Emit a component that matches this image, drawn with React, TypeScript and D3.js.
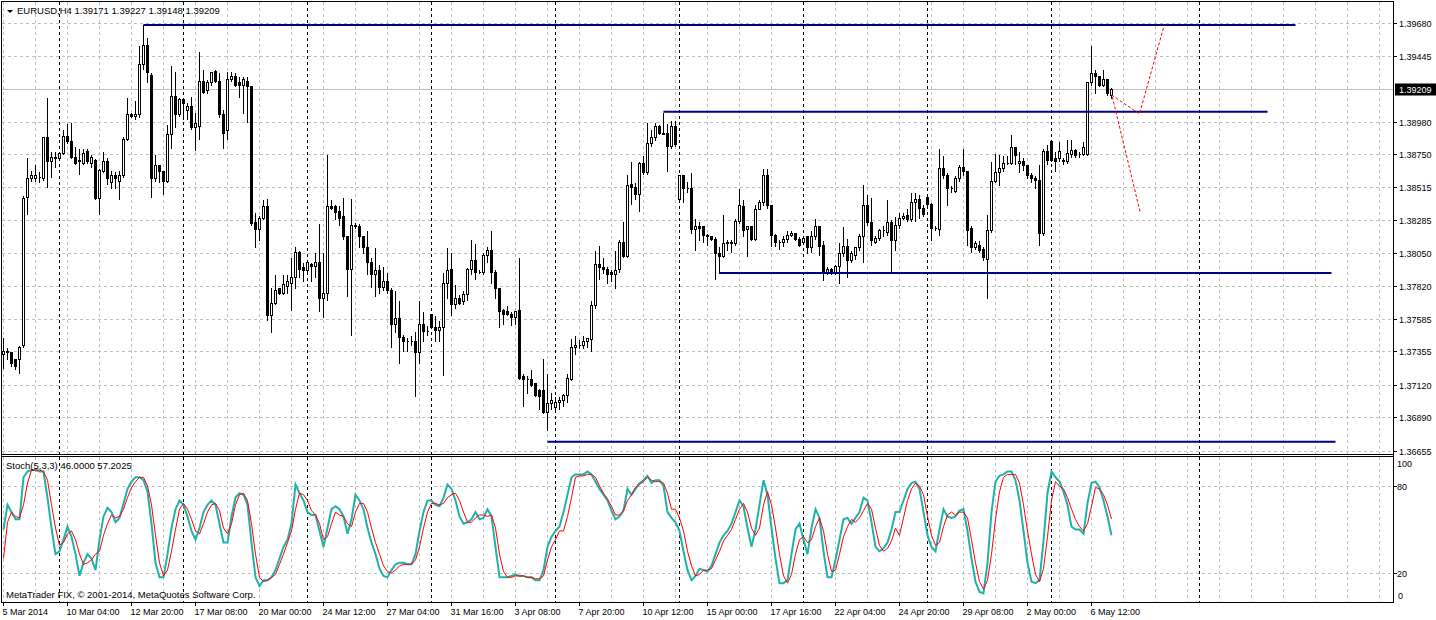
import * as d3 from "d3";

// EURUSD H4, 5 Mar 2014 .. 7 May 2014 (bar index 0..277)
const opens = [
  1.3734, 1.3736, 1.3735, 1.373, 1.373, 1.374, 1.3845, 1.3858, 1.3858, 1.3859,
  1.3858, 1.3887, 1.387, 1.3873, 1.3872, 1.3876, 1.3888, 1.3884, 1.3873, 1.387,
  1.3869, 1.3877, 1.3869, 1.3871, 1.3844, 1.3863, 1.387, 1.3855, 1.386, 1.3856,
  1.386, 1.3886, 1.3903, 1.3902, 1.3903, 1.3939, 1.3952, 1.3931, 1.3858, 1.3867,
  1.3863, 1.3856, 1.3889, 1.3916, 1.3903, 1.3914, 1.3906, 1.3909, 1.3894, 1.3895,
  1.3927, 1.392, 1.3926, 1.3934, 1.3927, 1.3903, 1.3892, 1.3928, 1.393, 1.3926,
  1.3924, 1.3927, 1.3923, 1.3827, 1.3822, 1.383, 1.3838, 1.3761, 1.377, 1.378,
  1.3777, 1.3782, 1.3784, 1.3788, 1.3806, 1.3795, 1.3793, 1.3797, 1.3796, 1.3799,
  1.3773, 1.3777, 1.3838, 1.3838, 1.3835, 1.3831, 1.3817, 1.3794, 1.3825, 1.3824,
  1.3817, 1.3809, 1.3799, 1.379, 1.3793, 1.3781, 1.3785, 1.3779, 1.3755, 1.3759,
  1.3746, 1.3743, 1.3743, 1.3743, 1.3735, 1.3755, 1.375, 1.3762, 1.3753, 1.3751,
  1.3753, 1.3784, 1.3794, 1.3769, 1.3773, 1.3771, 1.3776, 1.3794, 1.38, 1.3792,
  1.3792, 1.3804, 1.3807, 1.3792, 1.378, 1.3765, 1.3764, 1.3762, 1.376, 1.3765,
  1.3718, 1.3716, 1.3716, 1.3713, 1.3708, 1.3708, 1.3693, 1.3699, 1.3696, 1.37,
  1.3701, 1.3705, 1.3716, 1.3739, 1.374, 1.374, 1.3743, 1.3744, 1.3768, 1.3797,
  1.3795, 1.3794, 1.3792, 1.379, 1.3794, 1.3813, 1.3803, 1.3854, 1.3852, 1.3847,
  1.3869, 1.3862, 1.3883, 1.3887, 1.3895, 1.389, 1.389, 1.3881, 1.3895, 1.3843,
  1.386, 1.3851, 1.3851, 1.3822, 1.3824, 1.3824, 1.3818, 1.3817, 1.3815, 1.3805,
  1.3803, 1.3812, 1.3813, 1.3812, 1.3828, 1.3838, 1.3822, 1.3824, 1.3815, 1.3836,
  1.3841, 1.386, 1.3839, 1.3818, 1.3813, 1.3813, 1.3815, 1.3818, 1.3819, 1.3815,
  1.3813, 1.3817, 1.3809, 1.3817, 1.3824, 1.3811, 1.3791, 1.3794, 1.3792, 1.3796,
  1.3805, 1.381, 1.38, 1.3804, 1.3809, 1.3817, 1.3839, 1.3827, 1.3813, 1.3816,
  1.3821, 1.382, 1.3827, 1.3814, 1.3825, 1.383, 1.3832, 1.3829, 1.3841, 1.3843,
  1.3837, 1.3845, 1.384, 1.3823, 1.3822, 1.3865, 1.386, 1.3851, 1.3849, 1.3858,
  1.3866, 1.3863, 1.3823, 1.3809, 1.3811, 1.3808, 1.3801, 1.3821, 1.3856, 1.3862,
  1.3865, 1.3869, 1.3869, 1.388, 1.3869, 1.387, 1.3867, 1.386, 1.3858, 1.3857,
  1.3819, 1.3877, 1.3884, 1.3872, 1.3872, 1.3871, 1.387, 1.3875, 1.3878, 1.3875,
  1.3875, 1.3875, 1.3926, 1.3932, 1.393, 1.3924, 1.3928, 1.39171,
];
const highs = [
  1.3746, 1.3739, 1.3736, 1.3731, 1.374, 1.3846, 1.3873, 1.3864, 1.3868, 1.3863,
  1.3888, 1.3915, 1.3877, 1.3877, 1.3877, 1.3893, 1.3897, 1.3898, 1.3881, 1.3879,
  1.3879, 1.3879, 1.3875, 1.3872, 1.3865, 1.3877, 1.3873, 1.3864, 1.3863, 1.3864,
  1.3888, 1.3915, 1.3905, 1.3913, 1.3952, 1.3967, 1.3958, 1.3933, 1.3875, 1.3868,
  1.3864, 1.3896, 1.3938, 1.3934, 1.3915, 1.3915, 1.3912, 1.3916, 1.3905, 1.3948,
  1.3935, 1.3928, 1.3934, 1.3935, 1.3933, 1.3907, 1.3934, 1.3934, 1.3933, 1.393,
  1.393, 1.393, 1.3924, 1.3834, 1.3832, 1.3843, 1.3844, 1.3781, 1.379, 1.3781,
  1.379, 1.379, 1.3802, 1.381, 1.3807, 1.3799, 1.38, 1.3799, 1.3806, 1.3826,
  1.3806, 1.3875, 1.3843, 1.384, 1.3839, 1.3845, 1.3818, 1.3844, 1.3827, 1.3826,
  1.3818, 1.3821, 1.3802, 1.3809, 1.3797, 1.3796, 1.3792, 1.3781, 1.3779, 1.3772,
  1.3748, 1.3746, 1.3747, 1.375, 1.3772, 1.3764, 1.3754, 1.3762, 1.3761, 1.3758,
  1.3792, 1.3809, 1.3806, 1.3783, 1.3776, 1.3779, 1.3795, 1.3815, 1.3812, 1.3794,
  1.3806, 1.381, 1.3821, 1.3794, 1.378, 1.3766, 1.3768, 1.3764, 1.3765, 1.3802,
  1.372, 1.3719, 1.3723, 1.3714, 1.371, 1.3731, 1.372, 1.3707, 1.3704, 1.3704,
  1.3706, 1.372, 1.3745, 1.3747, 1.3744, 1.3747, 1.3746, 1.3772, 1.3807, 1.3811,
  1.3802, 1.3796, 1.3794, 1.3807, 1.3815, 1.3828, 1.3861, 1.387, 1.3855, 1.387,
  1.3874, 1.3898, 1.3893, 1.3898, 1.3896, 1.3905, 1.3897, 1.3899, 1.3899, 1.3861,
  1.3861, 1.3856, 1.3862, 1.383, 1.3828, 1.3824, 1.3819, 1.3818, 1.3817, 1.381,
  1.3833, 1.3815, 1.3815, 1.383, 1.3851, 1.3843, 1.3825, 1.3825, 1.384, 1.3843,
  1.3865, 1.3865, 1.384, 1.3819, 1.3815, 1.3818, 1.3821, 1.3821, 1.382, 1.3817,
  1.3817, 1.3818, 1.3821, 1.383, 1.3825, 1.3814, 1.3796, 1.3795, 1.3797, 1.3813,
  1.3824, 1.3816, 1.3807, 1.381, 1.3819, 1.3854, 1.3847, 1.3845, 1.3818, 1.3823,
  1.3825, 1.3843, 1.3829, 1.3831, 1.3834, 1.3834, 1.3837, 1.3848, 1.3848, 1.3847,
  1.384, 1.3847, 1.3841, 1.3825, 1.3879, 1.3874, 1.3862, 1.3853, 1.386, 1.3868,
  1.3879, 1.3864, 1.3825, 1.3814, 1.3814, 1.381, 1.3833, 1.387, 1.3876, 1.3875,
  1.3874, 1.3874, 1.3889, 1.3881, 1.3877, 1.3873, 1.3868, 1.3862, 1.386, 1.3868,
  1.3879, 1.3882, 1.3885, 1.3877, 1.3884, 1.3873, 1.3886, 1.3886, 1.3879, 1.3877,
  1.3884, 1.3927, 1.3952, 1.3935, 1.3931, 1.3935, 1.3929, 1.39227,
];
const lows = [
  1.3724, 1.373, 1.3725, 1.3723, 1.372, 1.3739, 1.3833, 1.3856, 1.3856, 1.3855,
  1.3857, 1.3852, 1.3859, 1.3866, 1.3871, 1.3875, 1.3883, 1.3872, 1.3868, 1.3861,
  1.3868, 1.3869, 1.3866, 1.3843, 1.3833, 1.3862, 1.3854, 1.3851, 1.3851, 1.3843,
  1.3859, 1.3885, 1.3901, 1.39, 1.3901, 1.3935, 1.3926, 1.3845, 1.3856, 1.3855,
  1.3847, 1.3855, 1.3879, 1.3894, 1.3902, 1.39, 1.39, 1.3893, 1.3878, 1.3886,
  1.3918, 1.3918, 1.3924, 1.3926, 1.3901, 1.3879, 1.3886, 1.3927, 1.3923, 1.3915,
  1.3904, 1.3898, 1.3825, 1.3809, 1.3814, 1.3829, 1.3758, 1.3749, 1.3769, 1.3776,
  1.3776, 1.3777, 1.3765, 1.378, 1.3788, 1.3785, 1.3792, 1.3785, 1.3788, 1.3764,
  1.376, 1.3772, 1.3836, 1.3829, 1.3825, 1.3815, 1.3775, 1.3747, 1.3823, 1.3809,
  1.3805, 1.379, 1.3781, 1.3775, 1.3777, 1.3779, 1.3777, 1.3739, 1.3749, 1.3727,
  1.3736, 1.3736, 1.374, 1.3704, 1.3727, 1.3743, 1.3747, 1.3752, 1.3743, 1.3743,
  1.3719, 1.3773, 1.3761, 1.3766, 1.3769, 1.3769, 1.3772, 1.379, 1.3787, 1.3791,
  1.379, 1.3799, 1.3784, 1.3773, 1.3753, 1.3755, 1.3761, 1.3754, 1.3755, 1.3716,
  1.3697, 1.3706, 1.3711, 1.3704, 1.3695, 1.3692, 1.368, 1.3695, 1.3695, 1.3695,
  1.3697, 1.37, 1.3715, 1.3734, 1.3738, 1.3738, 1.3739, 1.3736, 1.3766, 1.3787,
  1.3791, 1.3784, 1.3785, 1.378, 1.3792, 1.3802, 1.3802, 1.384, 1.3843, 1.3835,
  1.3861, 1.3861, 1.3881, 1.3885, 1.3889, 1.3889, 1.3863, 1.3879, 1.3881, 1.3841,
  1.3841, 1.3848, 1.3819, 1.3807, 1.3814, 1.3813, 1.3811, 1.3814, 1.3787, 1.3791,
  1.3802, 1.3807, 1.3806, 1.3811, 1.3826, 1.3817, 1.3803, 1.3814, 1.3814, 1.3836,
  1.3839, 1.3837, 1.381, 1.381, 1.3808, 1.381, 1.3813, 1.3817, 1.3814, 1.381,
  1.3812, 1.3805, 1.3806, 1.3815, 1.3804, 1.3786, 1.379, 1.379, 1.379, 1.3784,
  1.3803, 1.3788, 1.3799, 1.3801, 1.3807, 1.3799, 1.3825, 1.3811, 1.3812, 1.3814,
  1.3817, 1.3818, 1.3791, 1.3807, 1.3823, 1.3829, 1.3828, 1.3828, 1.3828, 1.383,
  1.3831, 1.3839, 1.3814, 1.3821, 1.3818, 1.3858, 1.3839, 1.3848, 1.3848, 1.3856,
  1.386, 1.3811, 1.3806, 1.3808, 1.3806, 1.38, 1.3773, 1.382, 1.3855, 1.3853,
  1.3863, 1.3868, 1.3868, 1.3868, 1.3862, 1.3864, 1.3858, 1.3855, 1.3851, 1.3811,
  1.3818, 1.3868, 1.387, 1.3863, 1.387, 1.3868, 1.3869, 1.3873, 1.3873, 1.3873,
  1.3874, 1.3874, 1.3924, 1.3918, 1.3923, 1.3923, 1.3917, 1.39148,
];
const closes = [
  1.3736, 1.3735, 1.3727, 1.3725, 1.3739, 1.3844, 1.3858, 1.386, 1.386, 1.3859,
  1.3887, 1.387, 1.3873, 1.3872, 1.3876, 1.3888, 1.3884, 1.3873, 1.3869, 1.3871,
  1.3876, 1.387, 1.3873, 1.3844, 1.3864, 1.387, 1.3858, 1.386, 1.3858, 1.386,
  1.3886, 1.3903, 1.3902, 1.3903, 1.3939, 1.3952, 1.3933, 1.3858, 1.3867, 1.3863,
  1.3856, 1.3889, 1.3916, 1.3903, 1.3914, 1.3911, 1.3909, 1.3894, 1.3897, 1.3927,
  1.3919, 1.3926, 1.3933, 1.3927, 1.3903, 1.389, 1.3928, 1.393, 1.3924, 1.3924,
  1.3928, 1.3923, 1.3826, 1.3822, 1.383, 1.3838, 1.3761, 1.377, 1.3779, 1.3777,
  1.3783, 1.3785, 1.3788, 1.3806, 1.3794, 1.3793, 1.3799, 1.3796, 1.3799, 1.3773,
  1.3777, 1.3838, 1.3837, 1.3834, 1.383, 1.3817, 1.3794, 1.3825, 1.3824, 1.3817,
  1.3809, 1.3799, 1.379, 1.3793, 1.3781, 1.3785, 1.3779, 1.3755, 1.3759, 1.3746,
  1.3743, 1.3743, 1.3743, 1.3735, 1.3755, 1.375, 1.375, 1.3753, 1.3751, 1.3753,
  1.3784, 1.3793, 1.3769, 1.3773, 1.377, 1.3776, 1.3794, 1.38, 1.3792, 1.3792,
  1.3804, 1.3807, 1.3792, 1.378, 1.3764, 1.3762, 1.3762, 1.376, 1.3764, 1.3717,
  1.3716, 1.3716, 1.3712, 1.3705, 1.3704, 1.3693, 1.3699, 1.3701, 1.37, 1.3701,
  1.3705, 1.3717, 1.3739, 1.374, 1.374, 1.3743, 1.3745, 1.3768, 1.3797, 1.3795,
  1.3794, 1.379, 1.379, 1.3793, 1.3813, 1.3803, 1.3853, 1.3852, 1.3847, 1.3869,
  1.3862, 1.3883, 1.3887, 1.3895, 1.389, 1.3889, 1.3881, 1.3895, 1.3882, 1.386,
  1.3851, 1.3851, 1.3822, 1.3824, 1.3823, 1.3818, 1.3817, 1.3815, 1.3805, 1.3803,
  1.3812, 1.3813, 1.3812, 1.3828, 1.3839, 1.3821, 1.3824, 1.3815, 1.3836, 1.3841,
  1.386, 1.3839, 1.3818, 1.3813, 1.3813, 1.3815, 1.3818, 1.3819, 1.3815, 1.3811,
  1.3816, 1.3809, 1.3817, 1.3824, 1.381, 1.3791, 1.3794, 1.3791, 1.3796, 1.3805,
  1.381, 1.38, 1.3805, 1.3809, 1.3817, 1.3839, 1.3827, 1.3814, 1.3816, 1.3821,
  1.3821, 1.3827, 1.3814, 1.3825, 1.383, 1.3831, 1.3829, 1.3841, 1.3843, 1.3837,
  1.3833, 1.384, 1.3823, 1.3823, 1.3865, 1.386, 1.3851, 1.3851, 1.3858, 1.3866,
  1.3863, 1.3821, 1.3809, 1.3812, 1.3807, 1.3802, 1.3821, 1.3856, 1.3862, 1.3865,
  1.3869, 1.3869, 1.388, 1.3874, 1.387, 1.3867, 1.386, 1.3858, 1.3857, 1.3819,
  1.3877, 1.3871, 1.3871, 1.387, 1.3877, 1.387, 1.3876, 1.3878, 1.3874, 1.3875,
  1.388, 1.3926, 1.3932, 1.393, 1.3924, 1.3928, 1.3918, 1.39209,
];

// Stoch(5,3,3): main (%K) and signal (%D)
const stochMain = [
  50, 67, 62, 57, 57, 86, 90, 91, 91, 90, 90, 72, 51, 33, 35, 43, 52, 45, 33, 18,
  27, 33, 30, 22, 43, 59, 65, 62,
  55, 58, 68, 78, 83, 86, 86, 84, 76, 54, 27, 17, 17, 33, 51, 64, 70, 67, 59, 49,
  43, 51, 62, 67, 70, 67, 54, 41,
  41, 59, 72, 75, 74, 67, 41, 17, 11, 15, 15, 17, 22, 30, 38, 43, 54, 81, 75, 70,
  62, 60, 60, 49, 38, 51, 64, 66,
  64, 59, 47, 57, 74, 70, 64, 51, 41, 33, 23, 18, 17, 22, 26, 27, 27, 26, 26, 33,
  49, 62, 70, 70, 67, 66, 72, 81,
  78, 70, 59, 54, 55, 57, 62, 57, 58, 64, 59, 38, 17, 17, 17, 18, 19, 18, 18, 17,
  17, 15, 15, 22, 38, 45, 49, 52,
  62, 74, 86, 88, 88, 88, 90, 88, 83, 78, 74, 70, 63, 57, 59, 63, 78, 74, 78, 82,
  84, 87, 82, 84, 84, 80, 62, 58,
  55, 49, 35, 22, 15, 18, 23, 22, 21, 25, 33, 41, 46, 49, 54, 62, 70, 66, 51, 38,
  50, 67, 84, 74, 51, 30, 13, 13,
  15, 33, 50, 54, 43, 33, 51, 64, 58, 35, 17, 17, 29, 43, 57, 58, 54, 58, 62, 72,
  70, 55, 38, 35, 37, 41, 50, 62,
  62, 70, 78, 82, 83, 78, 62, 46, 38, 35, 50, 64, 59, 58, 59, 63, 64, 49, 30, 14,
  7, 6, 27, 62, 83, 87, 88, 90,
  90, 84, 70, 49, 27, 14, 13, 15, 42, 75, 90, 86, 83, 76, 67, 52, 50, 50, 47, 68,
  82, 83, 79, 70, 59, 46,
];
const stochSignal = [
  30, 55, 62, 59, 58, 67, 82, 91, 91, 91, 90, 84, 67, 51, 39, 41, 47, 49, 43, 33,
  26, 27, 29, 33, 35, 46, 54, 60,
  58, 59, 64, 72, 79, 83, 86, 86, 80, 67, 46, 27, 18, 22, 35, 50, 64, 68, 64, 57,
  49, 47, 54, 62, 67, 68, 63, 51,
  47, 54, 67, 74, 75, 70, 54, 33, 17, 14, 15, 17, 19, 26, 33, 41, 49, 64, 75, 74,
  70, 63, 60, 54, 43, 45, 54, 62,
  60, 59, 54, 52, 62, 68, 68, 62, 51, 41, 33, 25, 21, 20, 22, 25, 26, 26, 26, 29,
  38, 51, 62, 68, 68, 67, 68, 72,
  74, 75, 70, 62, 55, 55, 58, 60, 60, 59, 60, 51, 33, 21, 17, 17, 18, 18, 18, 17,
  17, 16, 16, 18, 29, 38, 43, 49,
  49, 59, 72, 86, 87, 87, 88, 88, 86, 80, 75, 71, 66, 60, 60, 63, 70, 74, 79, 81,
  83, 86, 84, 83, 83, 82, 75, 64,
  64, 58, 49, 35, 25, 18, 19, 22, 22, 23, 29, 35, 42, 46, 50, 57, 64, 68, 62, 51,
  46, 51, 67, 76, 67, 51, 33, 18,
  13, 19, 33, 43, 45, 41, 43, 52, 58, 49, 33, 21, 22, 33, 45, 52, 57, 55, 58, 63,
  68, 64, 51, 39, 35, 37, 42, 51,
  46, 58, 70, 78, 82, 80, 74, 59, 46, 39, 41, 52, 60, 62, 60, 62, 62, 58, 43, 27,
  14, 9, 15, 33, 57, 76, 86, 88,
  88, 88, 82, 67, 49, 33, 19, 14, 23, 45, 70, 83, 80, 78, 72, 64, 57, 52, 49, 54,
  66, 79, 78, 74, 67, 57.2025,
];

const priceLabels = [
  "1.39680", "1.39445", "1.38980", "1.38750", "1.38515", "1.38285", "1.38050",
  "1.37820", "1.37585", "1.37355", "1.37120", "1.36890", "1.36655",
];
const stochLabels = [100, 80, 20, 0];
const stochLevels = [80, 20];
const timeLabels = [
  "5 Mar 2014", "10 Mar 04:00", "12 Mar 20:00", "17 Mar 08:00", "20 Mar 00:00",
  "24 Mar 12:00", "27 Mar 04:00", "31 Mar 16:00", "3 Apr 08:00", "7 Apr 20:00",
  "10 Apr 12:00", "15 Apr 00:00", "17 Apr 16:00", "22 Apr 04:00", "24 Apr 20:00",
  "29 Apr 08:00", "2 May 00:00", "6 May 12:00",
];
const weekStartBars = [14, 45, 76, 107, 138, 169, 200, 231, 262, 299];

// horizontal levels drawn on the chart: price, first bar, last bar
const levelPrices = [1.39662, 1.3905, 1.3791, 1.36717];
const levelFrom = [35, 165, 179, 136];
const levelTo = [323, 316, 332, 333];

// red dotted forecast paths [bar, price]
const forecastUp: [number, number][] = [[277, 1.39168], [284, 1.39034], [290, 1.39643]];
const forecastDown: [number, number][] = [[277.2, 1.39155], [284.2, 1.38335]];

const FONT = "'Liberation Sans', Arial, sans-serif";

export default function App() {
  const width = 1436;
  const height = 620;
  const right = 1393;
  const mainTop = 1;
  const mainBottom = 454;
  const subTop = 456;
  const subBottom = 602;

  const x = d3.scaleLinear().domain([0, 1]).range([3.5, 7.5]);
  const y = d3.scaleLinear().domain([1.36655, 1.3968]).range([450.5, 22.5]);
  const ys = d3.scaleLinear().domain([0, 100]).range([602, 457]);
  const snap = (v: number) => Math.round(v) + 0.5;

  const line = d3
    .line<number>()
    .x((_, i) => x(i))
    .y((d) => ys(d));
  const fLine = d3
    .line<[number, number]>()
    .x((d) => x(d[0]))
    .y((d) => y(d[1]));

  const gridCols = d3.range(0, right - 3, 32).map((v) => 3.5 + v);
  const bid = closes[closes.length - 1];
  const bidY = snap(y(bid));

  return (
    <svg
      width={width}
      height={height}
      style={{ position: "absolute", left: 0, top: 0, background: "#fff" }}
      fontFamily={FONT}
    >
      <rect x={0} y={0} width={width} height={height} fill="#fff" />

      {/* grid */}
      <g stroke="#c0c0c0" strokeDasharray="3,3" shapeRendering="crispEdges">
        {gridCols.map((gx) => (
          <g key={`vg${gx}`}>
            <line x1={gx} x2={gx} y1={mainTop + 1} y2={mainBottom} />
            <line x1={gx} x2={gx} y1={subTop + 1} y2={subBottom} />
          </g>
        ))}
        {priceLabels.map((p) => (
          <line key={`hg${p}`} x1={2} x2={right} y1={snap(y(+p))} y2={snap(y(+p))} />
        ))}
        {stochLevels.map((v) => (
          <line key={`sl${v}`} x1={2} x2={right} y1={snap(ys(v))} y2={snap(ys(v))} />
        ))}
      </g>

      {/* bid line */}
      <line x1={2} x2={right} y1={bidY} y2={bidY} stroke="#c0c0c0" shapeRendering="crispEdges" />

      {/* week separators */}
      <g stroke="#000" strokeDasharray="3,3" shapeRendering="crispEdges">
        {weekStartBars.map((b) => (
          <g key={`ws${b}`}>
            <line x1={x(b)} x2={x(b)} y1={mainTop + 1} y2={mainBottom} />
            <line x1={x(b)} x2={x(b)} y1={subTop + 1} y2={subBottom} />
          </g>
        ))}
      </g>

      {/* candles */}
      <g shapeRendering="crispEdges">
        {closes.map((c, i) => {
          const o = opens[i];
          const cx = x(i);
          const top = snap(y(Math.max(o, c)));
          const bot = snap(y(Math.min(o, c)));
          return (
            <g key={`c${i}`}>
              <line x1={cx} x2={cx} y1={snap(y(highs[i]))} y2={snap(y(lows[i]))} stroke="#000" />
              <path
                d={`M${cx - 1},${top}H${cx + 1}V${bot}H${cx - 1}Z`}
                fill={c >= o ? "#fff" : "#000"}
                stroke="#000"
              />
            </g>
          );
        })}
      </g>

      {/* levels */}
      <g stroke="#000080" strokeWidth={2}>
        {levelPrices.map((p, k) => (
          <line key={`lv${k}`} x1={x(levelFrom[k])} x2={x(levelTo[k])} y1={y(p)} y2={y(p)} />
        ))}
      </g>

      {/* forecast */}
      <g stroke="#ff0000" fill="none" strokeDasharray="3,2">
        <path d={fLine(forecastUp) ?? ""} />
        <path d={fLine(forecastDown) ?? ""} />
      </g>

      {/* stochastic */}
      <path d={line(stochMain) ?? ""} fill="none" stroke="#20b2aa" strokeWidth={2} />
      <path d={line(stochSignal) ?? ""} fill="none" stroke="#ff0000" strokeWidth={1} />

      {/* frames */}
      <g stroke="#000" fill="none" shapeRendering="crispEdges">
        <line x1={1.5} x2={1.5} y1={mainTop} y2={subBottom + 0.5} />
        <line x1={1} x2={right + 0.5} y1={mainTop + 0.5} y2={mainTop + 0.5} />
        <line x1={1} x2={right + 0.5} y1={mainBottom + 0.5} y2={mainBottom + 0.5} />
        <line x1={1} x2={right + 0.5} y1={subTop + 0.5} y2={subTop + 0.5} />
        <line x1={1} x2={right + 0.5} y1={subBottom + 0.5} y2={subBottom + 0.5} />
        <line x1={right + 0.5} x2={right + 0.5} y1={mainTop} y2={subBottom + 0.5} />
      </g>

      {/* price axis */}
      <g fontSize={9} fill="#000">
        {priceLabels.map((p) => {
          const py = snap(y(+p));
          return (
            <g key={`pl${p}`}>
              <line x1={right} x2={right + 4} y1={py} y2={py} stroke="#000" shapeRendering="crispEdges" />
              <text x={1399} y={py + 3.5}>{p}</text>
            </g>
          );
        })}
        <rect x={1395} y={bidY - 6} width={41} height={12} fill="#000" />
        <text x={1399} y={bidY + 3.5} fill="#fff">{bid.toFixed(5)}</text>
      </g>

      {/* stoch axis */}
      <g fontSize={9} fill="#000">
        {stochLevels.map((v) => (
          <line key={`st${v}`} x1={right} x2={right + 4} y1={snap(ys(v))} y2={snap(ys(v))} stroke="#000" shapeRendering="crispEdges" />
        ))}
        {stochLabels.map((v) => {
          const sy = Math.min(Math.max(ys(v), 463), 595);
          return (
            <text key={`sx${v}`} x={v === 0 ? 1398 : 1397} y={sy + 3.5}>{v}</text>
          );
        })}
      </g>

      {/* time axis */}
      <g fontSize={9} fill="#000">
        {timeLabels.map((t, k) => {
          const tx = x(k * 16);
          return (
            <g key={`tl${k}`}>
              <line x1={tx} x2={tx} y1={subBottom + 1} y2={subBottom + 4} stroke="#000" shapeRendering="crispEdges" />
              <text x={tx - 1} y={615}>{t}</text>
            </g>
          );
        })}
      </g>

      {/* captions */}
      <path d="M7,10 L13,10 L10,13 Z" fill="#000" />
      <text x={17} y={14} fontSize={9.5}>EURUSD,H4  1.39171 1.39227 1.39148 1.39209</text>
      <text x={6} y={469} fontSize={9.5}>Stoch(5,3,3) 46.0000 57.2025</text>
      <text x={6} y={598} fontSize={9.5}>MetaTrader FIX, © 2001-2014, MetaQuotes Software Corp.</text>
    </svg>
  );
}
